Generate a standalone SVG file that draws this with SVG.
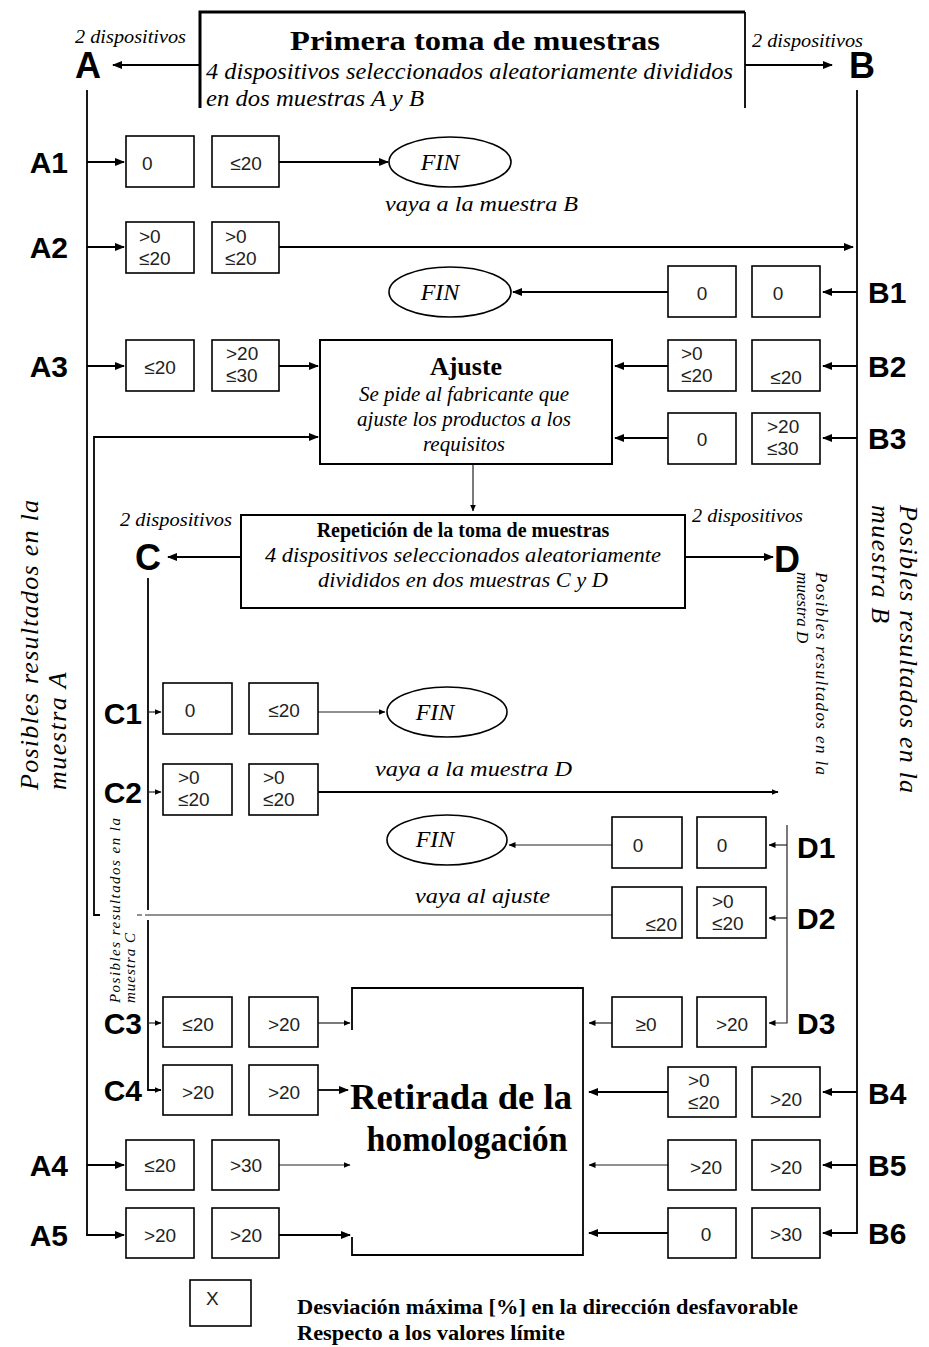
<svg xmlns="http://www.w3.org/2000/svg" width="929" height="1347" viewBox="0 0 929 1347">
<defs>
<marker id="ah" markerWidth="10" markerHeight="8" refX="9" refY="4" orient="auto" markerUnits="userSpaceOnUse"><path d="M0,0 L10,4 L0,8 z" fill="#000"/></marker>
<marker id="as" markerWidth="7" markerHeight="6" refX="6.5" refY="3" orient="auto" markerUnits="userSpaceOnUse"><path d="M0,0 L7,3 L0,6 z" fill="#000"/></marker>
</defs>
<style>
.bx{fill:#fff;stroke:#000;stroke-width:1.6}
.v{font-family:"Liberation Sans",Arial,sans-serif;font-size:19px;fill:#222}
.m{text-anchor:middle}
.e{text-anchor:end}
.lb{font-family:"Liberation Sans",Arial,sans-serif;font-weight:bold;font-size:30px;fill:#000}
.big{font-family:"Liberation Sans",Arial,sans-serif;font-weight:bold;font-size:36px;fill:#000}
.ln{fill:none;stroke:#000;stroke-width:1.8}
.lt{fill:none;stroke:#222;stroke-width:1.2}
.it{font-family:"Liberation Serif","Times New Roman",serif;font-style:italic;fill:#000}
.bd{font-family:"Liberation Serif","Times New Roman",serif;font-weight:bold;fill:#000}
.fin{fill:#fff;stroke:#000;stroke-width:1.6}
.edge{fill:none;stroke:#000}
</style>
<rect width="929" height="1347" fill="#fff"/>

<g id="connectors">
<path class="ln" d="M200,65 H113" marker-end="url(#ah)"/>
<path class="ln" d="M745,65 H832" marker-end="url(#ah)"/>
<path class="ln" d="M87,90 V1235 H124" marker-end="url(#ah)"/>
<path class="ln" d="M87,162 H124" marker-end="url(#ah)"/>
<path class="ln" d="M87,247 H124" marker-end="url(#ah)"/>
<path class="ln" d="M87,366 H124" marker-end="url(#ah)"/>
<path class="ln" d="M87,1165 H124" marker-end="url(#ah)"/>
<path class="ln" d="M857,90 V1233 H823" marker-end="url(#ah)"/>
<path class="ln" d="M857,292 H823" marker-end="url(#ah)"/>
<path class="ln" d="M857,366 H823" marker-end="url(#ah)"/>
<path class="ln" d="M857,438 H823" marker-end="url(#ah)"/>
<path class="ln" d="M857,1092 H823" marker-end="url(#ah)"/>
<path class="ln" d="M857,1165 H823" marker-end="url(#ah)"/>
<path class="ln" d="M279,162 H388" marker-end="url(#ah)"/>
<path class="ln" d="M279,247 H853" marker-end="url(#ah)"/>
<path class="ln" d="M668,292 H513" marker-end="url(#ah)"/>
<path class="ln" d="M279,366 H318" marker-end="url(#ah)"/>
<path class="ln" d="M668,366 H615" marker-end="url(#ah)"/>
<path class="ln" d="M668,438 H615" marker-end="url(#ah)"/>
<path class="lt" d="M473,464 V511" marker-end="url(#as)"/>
<path class="ln" d="M100,915 H94 V437 H318" marker-end="url(#ah)"/>
<path class="ln" d="M241,557 H168" marker-end="url(#ah)"/>
<path class="ln" d="M685,557 H773" marker-end="url(#ah)"/>
<path class="ln" d="M148,578 V910"/>
<path class="ln" d="M148,920 V1090 H161" marker-end="url(#as)"/>
<path class="lt" d="M148,712 H161" marker-end="url(#as)"/>
<path class="lt" d="M148,792 H161" marker-end="url(#as)"/>
<path class="lt" d="M148,1023 H161" marker-end="url(#as)"/>
<path class="lt" d="M318,712 H385" marker-end="url(#as)"/>
<path class="ln" d="M318,792 H778" marker-end="url(#as)"/>
<path class="lt" d="M318,1023 H350" marker-end="url(#as)"/>
<path class="ln" d="M318,1090 H348" marker-end="url(#ah)"/>
<path class="lt" d="M787,825 V1023 H769" marker-end="url(#as)"/>
<path class="lt" d="M787,845 H769" marker-end="url(#as)"/>
<path class="lt" d="M787,918 H769" marker-end="url(#as)"/>
<path class="lt" d="M612,845 H509" marker-end="url(#as)"/>
<path class="lt" d="M612,915 H145 M142,915 H137"/>
<path class="lt" d="M612,1023 H589" marker-end="url(#as)"/>
<path class="ln" d="M668,1092 H589" marker-end="url(#ah)"/>
<path class="lt" d="M668,1165 H589" marker-end="url(#as)"/>
<path class="ln" d="M668,1233 H589" marker-end="url(#ah)"/>
<path class="lt" d="M279,1165 H350" marker-end="url(#as)"/>
<path class="ln" d="M279,1235 H350" marker-end="url(#ah)"/>
</g>

<g id="primera">
<path class="edge" d="M200,108 V12 H745" stroke-width="3"/>
<path class="edge" d="M745,12 V108" stroke-width="1.8"/>
<text class="bd" x="475" y="50" font-size="28" text-anchor="middle" textLength="370" lengthAdjust="spacingAndGlyphs">Primera toma de muestras</text>
<text class="it" x="206" y="79" font-size="23" textLength="527" lengthAdjust="spacingAndGlyphs">4 dispositivos seleccionados aleatoriamente divididos</text>
<text class="it" x="206" y="106" font-size="23" textLength="218" lengthAdjust="spacingAndGlyphs">en dos muestras A y B</text>
</g>
<g id="labelA">
<text class="it" x="75" y="43" font-size="18" textLength="111" lengthAdjust="spacingAndGlyphs">2 dispositivos</text>
<text class="big m" x="88" y="78">A</text>
</g>
<g id="labelB">
<text class="it" x="752" y="47" font-size="18" textLength="111" lengthAdjust="spacingAndGlyphs">2 dispositivos</text>
<text class="big m" x="862" y="78">B</text>
</g>

<g id="A1">
<text class="lb e" x="68" y="173">A1</text>
<rect class="bx" x="126" y="136" width="68" height="51"/><rect class="bx" x="212" y="136" width="67" height="51"/>
<text class="v" x="142" y="170">0</text><text class="v m" x="246" y="170">≤20</text>
</g>
<g id="A2">
<text class="lb e" x="68" y="258">A2</text>
<rect class="bx" x="126" y="222" width="68" height="51"/><rect class="bx" x="212" y="222" width="67" height="51"/>
<text class="v" x="139" y="243">&gt;0</text><text class="v" x="139" y="265">≤20</text>
<text class="v" x="225" y="243">&gt;0</text><text class="v" x="225" y="265">≤20</text>
</g>
<g id="A3">
<text class="lb e" x="68" y="377">A3</text>
<rect class="bx" x="126" y="340" width="68" height="51"/><rect class="bx" x="212" y="340" width="67" height="51"/>
<text class="v m" x="160" y="374">≤20</text>
<text class="v" x="226" y="360">&gt;20</text><text class="v" x="226" y="382">≤30</text>
</g>
<g id="A4">
<text class="lb e" x="68" y="1176">A4</text>
<rect class="bx" x="126" y="1140" width="68" height="50"/><rect class="bx" x="212" y="1140" width="67" height="50"/>
<text class="v m" x="160" y="1172">≤20</text><text class="v m" x="246" y="1172">&gt;30</text>
</g>
<g id="A5">
<text class="lb e" x="68" y="1246">A5</text>
<rect class="bx" x="126" y="1208" width="68" height="50"/><rect class="bx" x="212" y="1208" width="67" height="50"/>
<text class="v m" x="160" y="1242">&gt;20</text><text class="v m" x="246" y="1242">&gt;20</text>
</g>

<g id="B1">
<text class="lb" x="868" y="303">B1</text>
<rect class="bx" x="668" y="266" width="68" height="51"/><rect class="bx" x="752" y="266" width="68" height="51"/>
<text class="v m" x="702" y="300">0</text><text class="v m" x="778" y="300">0</text>
</g>
<g id="B2">
<text class="lb" x="868" y="377">B2</text>
<rect class="bx" x="668" y="340" width="68" height="51"/><rect class="bx" x="752" y="340" width="68" height="51"/>
<text class="v" x="681" y="360">&gt;0</text><text class="v" x="681" y="382">≤20</text>
<text class="v m" x="786" y="384">≤20</text>
</g>
<g id="B3">
<text class="lb" x="868" y="449">B3</text>
<rect class="bx" x="668" y="413" width="68" height="51"/><rect class="bx" x="752" y="413" width="68" height="51"/>
<text class="v m" x="702" y="446">0</text>
<text class="v" x="767" y="433">&gt;20</text><text class="v" x="767" y="455">≤30</text>
</g>
<g id="B4">
<text class="lb" x="868" y="1104">B4</text>
<rect class="bx" x="668" y="1067" width="68" height="50"/><rect class="bx" x="752" y="1067" width="68" height="50"/>
<text class="v" x="688" y="1087">&gt;0</text><text class="v" x="688" y="1109">≤20</text>
<text class="v m" x="786" y="1106">&gt;20</text>
</g>
<g id="B5">
<text class="lb" x="868" y="1176">B5</text>
<rect class="bx" x="668" y="1140" width="68" height="50"/><rect class="bx" x="752" y="1140" width="68" height="50"/>
<text class="v m" x="706" y="1174">&gt;20</text><text class="v m" x="786" y="1174">&gt;20</text>
</g>
<g id="B6">
<text class="lb" x="868" y="1244">B6</text>
<rect class="bx" x="668" y="1208" width="68" height="50"/><rect class="bx" x="752" y="1208" width="68" height="50"/>
<text class="v m" x="706" y="1241">0</text><text class="v m" x="786" y="1241">&gt;30</text>
</g>

<g id="fin1"><ellipse class="fin" cx="450" cy="162" rx="61" ry="25"/><text class="it m" x="440" y="170" font-size="24">FIN</text></g>
<g id="note-B"><text class="it" x="385" y="211" font-size="22" textLength="193" lengthAdjust="spacingAndGlyphs">vaya a la muestra B</text></g>
<g id="fin2"><ellipse class="fin" cx="450" cy="292" rx="61" ry="25"/><text class="it m" x="440" y="300" font-size="24">FIN</text></g>

<g id="ajuste">
<rect x="320" y="340" width="292" height="124" fill="#fff" stroke="#000" stroke-width="2"/>
<text class="bd m" x="466" y="375" font-size="26">Ajuste</text>
<text class="it m" x="464" y="401" font-size="21">Se pide al fabricante que</text>
<text class="it m" x="464" y="426" font-size="21">ajuste los productos a los</text>
<text class="it m" x="464" y="451" font-size="21">requisitos</text>
</g>

<g id="repeticion">
<rect x="241" y="515" width="444" height="93" fill="#fff" stroke="#000" stroke-width="2"/>
<text class="bd m" x="463" y="537" font-size="20">Repetición de la toma de muestras</text>
<text class="it m" x="463" y="562" font-size="21" textLength="396" lengthAdjust="spacingAndGlyphs">4 dispositivos seleccionados aleatoriamente</text>
<text class="it m" x="463" y="587" font-size="21" textLength="290" lengthAdjust="spacingAndGlyphs">divididos en dos muestras C y D</text>
</g>
<g id="labelC">
<text class="it" x="120" y="526" font-size="18" textLength="112" lengthAdjust="spacingAndGlyphs">2 dispositivos</text>
<text class="big m" x="148" y="570">C</text>
</g>
<g id="labelD">
<text class="it" x="692" y="522" font-size="18" textLength="111" lengthAdjust="spacingAndGlyphs">2 dispositivos</text>
<text class="big m" x="787" y="572">D</text>
</g>

<g id="C1">
<text class="lb e" x="142" y="724" font-size="28">C1</text>
<rect class="bx" x="163" y="683" width="69" height="51"/><rect class="bx" x="249" y="683" width="69" height="51"/>
<text class="v m" x="190" y="717">0</text><text class="v m" x="284" y="717">≤20</text>
</g>
<g id="C2">
<text class="lb e" x="142" y="803" font-size="28">C2</text>
<rect class="bx" x="163" y="764" width="69" height="51"/><rect class="bx" x="249" y="764" width="69" height="51"/>
<text class="v" x="178" y="784">&gt;0</text><text class="v" x="178" y="806">≤20</text>
<text class="v" x="263" y="784">&gt;0</text><text class="v" x="263" y="806">≤20</text>
</g>
<g id="C3">
<text class="lb e" x="142" y="1034" font-size="28">C3</text>
<rect class="bx" x="163" y="997" width="69" height="50"/><rect class="bx" x="249" y="997" width="69" height="50"/>
<text class="v m" x="198" y="1031">≤20</text><text class="v m" x="284" y="1031">&gt;20</text>
</g>
<g id="C4">
<text class="lb e" x="142" y="1101" font-size="28">C4</text>
<rect class="bx" x="163" y="1065" width="69" height="50"/><rect class="bx" x="249" y="1065" width="69" height="50"/>
<text class="v m" x="198" y="1099">&gt;20</text><text class="v m" x="284" y="1099">&gt;20</text>
</g>

<g id="fin3"><ellipse class="fin" cx="447" cy="712" rx="60" ry="25"/><text class="it m" x="435" y="720" font-size="24">FIN</text></g>
<g id="note-D"><text class="it" x="375" y="776" font-size="22" textLength="197" lengthAdjust="spacingAndGlyphs">vaya a la muestra D</text></g>
<g id="fin4"><ellipse class="fin" cx="447" cy="840" rx="60" ry="25"/><text class="it m" x="435" y="847" font-size="24">FIN</text></g>
<g id="note-ajuste"><text class="it" x="415" y="903" font-size="22" textLength="135" lengthAdjust="spacingAndGlyphs">vaya al ajuste</text></g>

<g id="D1">
<text class="lb" x="797" y="858" font-size="28">D1</text>
<rect class="bx" x="612" y="817" width="70" height="51"/><rect class="bx" x="697" y="817" width="69" height="51"/>
<text class="v m" x="638" y="852">0</text><text class="v m" x="722" y="852">0</text>
</g>
<g id="D2">
<text class="lb" x="797" y="929" font-size="28">D2</text>
<rect class="bx" x="612" y="887" width="70" height="51"/><rect class="bx" x="697" y="887" width="69" height="51"/>
<text class="v e" x="677" y="931">≤20</text>
<text class="v" x="712" y="908">&gt;0</text><text class="v" x="712" y="930">≤20</text>
</g>
<g id="D3">
<text class="lb" x="797" y="1034" font-size="28">D3</text>
<rect class="bx" x="612" y="997" width="70" height="50"/><rect class="bx" x="697" y="997" width="69" height="50"/>
<text class="v m" x="646" y="1031">≥0</text><text class="v m" x="732" y="1031">&gt;20</text>
</g>

<g id="retirada">
<path d="M352,1030 V988 H583 V1255 H352 V1237" fill="none" stroke="#000" stroke-width="1.8"/>
<text class="bd" x="350" y="1109" font-size="36" textLength="222" lengthAdjust="spacingAndGlyphs">Retirada de la</text>
<text class="bd m" x="467" y="1151" font-size="36" textLength="201" lengthAdjust="spacingAndGlyphs">homologación</text>
</g>

<g id="side-A">
<g transform="translate(38,790) rotate(-90)">
<text class="it" x="0" y="0" font-size="26" textLength="290" lengthAdjust="spacing">Posibles resultados en la</text>
<text class="it" x="0" y="28" font-size="26" letter-spacing="1.5">muestra A</text>
</g>
</g>
<g id="side-B">
<g transform="translate(900,505) rotate(90)">
<text class="it" x="0" y="0" font-size="26" textLength="288" lengthAdjust="spacing">Posibles resultados en la</text>
<text class="it" x="0" y="28" font-size="26" letter-spacing="1.5">muestra B</text>
</g>
</g>
<g id="side-C">
<g transform="translate(120,1003) rotate(-90)">
<text class="it" x="0" y="0" font-size="15" textLength="185" lengthAdjust="spacing">Posibles resultados en la</text>
<text class="it" x="0" y="15" font-size="15" letter-spacing="1">muestra C</text>
</g>
</g>
<g id="side-D">
<g transform="translate(816,572) rotate(90)">
<text class="it" x="0" y="0" font-size="17" textLength="203" lengthAdjust="spacing">Posibles resultados en la</text>
<text class="it" x="0" y="19" font-size="17">muestra D</text>
</g>
</g>

<g id="legend">
<rect class="bx" x="190" y="1280" width="61" height="46"/>
<text class="v" x="206" y="1305">X</text>
<text class="bd" x="297" y="1314" font-size="20" textLength="501" lengthAdjust="spacingAndGlyphs">Desviación máxima [%] en la dirección desfavorable</text>
<text class="bd" x="297" y="1340" font-size="20" textLength="268" lengthAdjust="spacingAndGlyphs">Respecto a los valores límite</text>
</g>
</svg>
